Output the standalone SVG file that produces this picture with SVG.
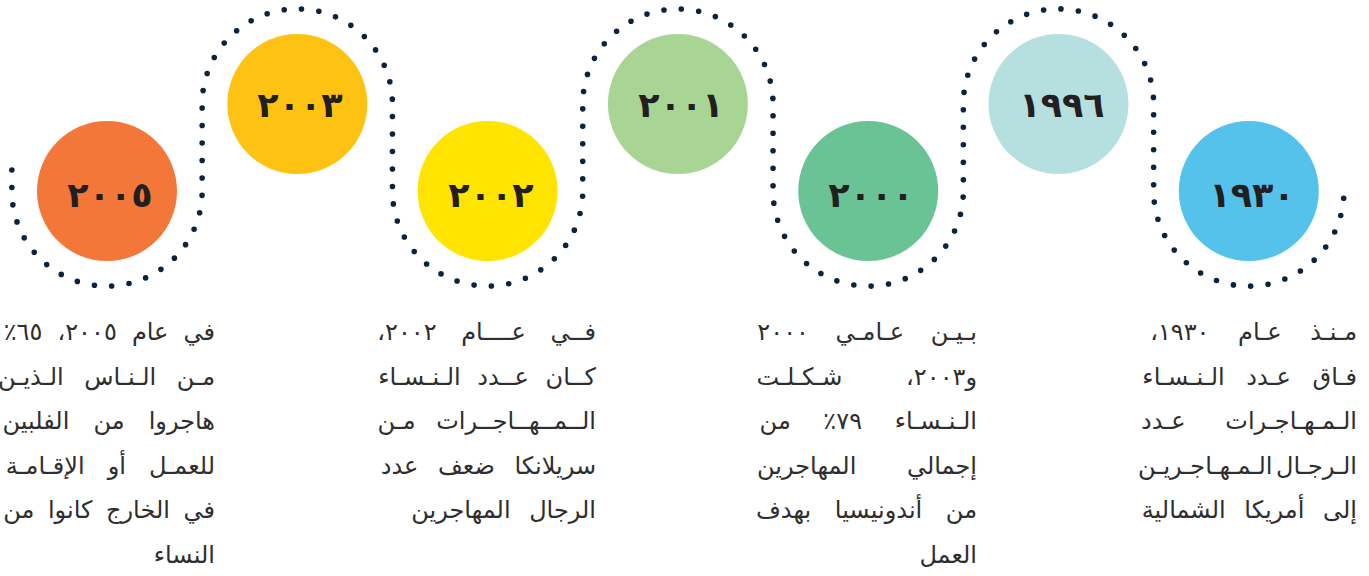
<svg xmlns="http://www.w3.org/2000/svg" width="1369" height="576" viewBox="0 0 1369 576">
<style>
.year{font-family:"DejaVu Sans",sans-serif;font-weight:bold;font-size:35px;fill:#231f20;text-anchor:middle;letter-spacing:6px}
.body{font-family:"DejaVu Sans",sans-serif;font-size:24px;fill:#2e2e2e;direction:rtl;text-anchor:start}
.dots{fill:none;stroke:#0c2340;stroke-width:5.6;stroke-linecap:round;stroke-dasharray:0 1}
</style>
<rect width="1369" height="576" fill="#ffffff"/>
<g id="connectors">
<path class="dots" pathLength="150" d="M 11.85 170 L 11.85 191 A 95.15 95.15 0 0 0 202.15 191 L 202.15 104 A 95.15 95.15 0 0 1 392.45 104 L 392.45 191 A 95.15 95.15 0 0 0 582.75 191 L 582.75 104 A 95.15 95.15 0 0 1 773.05 104 L 773.05 191 A 95.15 95.15 0 0 0 963.35 191 L 963.35 104 A 95.15 95.15 0 0 1 1153.65 104 L 1153.65 191 A 95.15 95.15 0 0 0 1343.67 198.3"/>
</g>
<g id="node-2005">
<circle cx="107" cy="191" r="70" fill="#f37738"/>
<text class="year" x="110" y="207">٢٠٠٥</text>
<text class="body" x="215" y="340" word-spacing="7.5">في عام ٢٠٠٥، ٦٥٪</text>
<text class="body" x="215" y="384.6" word-spacing="13">مـن الـنـاس الـذيـن</text>
<text class="body" x="215" y="429.2" word-spacing="16.5">هاجروا من الفلبين</text>
<text class="body" x="215" y="473.8" word-spacing="15.5">للعمـل أو الإقـامـة</text>
<text class="body" x="215" y="518.4" word-spacing="6">في الخارج كانوا من</text>
<text class="body" x="215" y="563">النساء</text>
</g>
<g id="node-2003">
<circle cx="297.3" cy="104" r="70" fill="#fec312"/>
<text class="year" x="300" y="117">٢٠٠٣</text>
</g>
<g id="node-2002">
<circle cx="487.6" cy="191" r="70" fill="#ffe400"/>
<text class="year" x="491" y="207">٢٠٠٢</text>
<text class="body" x="596" y="340" word-spacing="17">فــي عــــام ٢٠٠٢،</text>
<text class="body" x="596" y="384.6" word-spacing="9">كــان عــدد الـنـسـاء</text>
<text class="body" x="596" y="429.2" word-spacing="13">الــمــهــاجــرات مـن</text>
<text class="body" x="596" y="473.8" word-spacing="12">سريلانكا ضعف عدد</text>
<text class="body" x="596" y="518.4" word-spacing="11">الرجال المهاجرين</text>
</g>
<g id="node-2001">
<circle cx="677.9" cy="104" r="70" fill="#a9d594"/>
<text class="year" x="681" y="117">٢٠٠١</text>
</g>
<g id="node-2000">
<circle cx="868.2" cy="191" r="70" fill="#6ac395"/>
<text class="year" x="871" y="207">٢٠٠٠</text>
<text class="body" x="977" y="340" word-spacing="19">بـيـن عـامـي ٢٠٠٠</text>
<text class="body" x="977" y="384.6" word-spacing="56">و٢٠٠٣، شـكـلـت</text>
<text class="body" x="977" y="429.2" word-spacing="25">الـنـسـاء ٧٩٪ من</text>
<text class="body" x="977" y="473.8" word-spacing="43">إجمالي المهاجرين</text>
<text class="body" x="977" y="518.4" word-spacing="16">من أندونيسيا بهدف</text>
<text class="body" x="977" y="563">العمل</text>
</g>
<g id="node-1996">
<circle cx="1058.5" cy="104" r="70" fill="#b6e0e0"/>
<text class="year" x="1062" y="117">١٩٩٦</text>
</g>
<g id="node-1930">
<circle cx="1248.8" cy="191" r="70" fill="#55c2ec"/>
<text class="year" x="1252" y="207">١٩٣٠</text>
<text class="body" x="1357" y="340" word-spacing="21">مـنـذ عـام ١٩٣٠،</text>
<text class="body" x="1357" y="384.6" word-spacing="14">فـاق عـدد الـنـسـاء</text>
<text class="body" x="1357" y="429.2" word-spacing="32">الـمـهـاجـرات عـدد</text>
<text class="body" x="1357" y="473.8" word-spacing="-4">الـرجـال الـمـهـاجـريـن</text>
<text class="body" x="1357" y="518.4" word-spacing="11">إلى أمريكا الشمالية</text>
</g>
</svg>
